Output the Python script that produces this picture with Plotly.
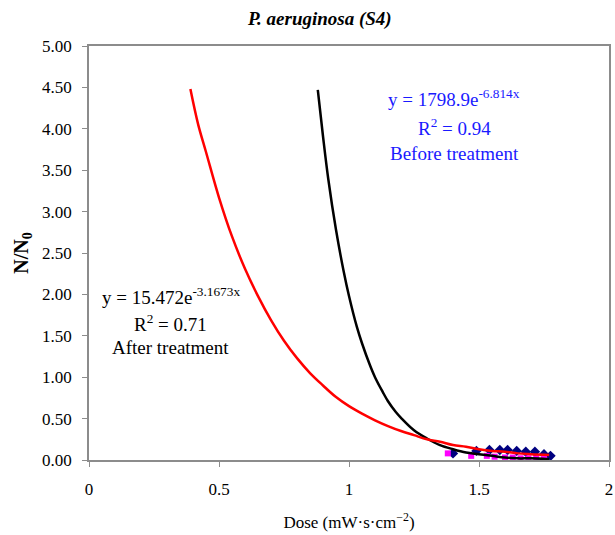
import plotly.graph_objects as go

before_x = [1.40, 1.49, 1.54, 1.58, 1.61, 1.645, 1.68, 1.715, 1.75, 1.775]
before_y = [0.08, 0.11, 0.12, 0.12, 0.12, 0.11, 0.10, 0.10, 0.07, 0.05]
after_x = [1.38, 1.47, 1.53, 1.56, 1.60, 1.63, 1.66, 1.69, 1.72, 1.75]
after_y = [0.08, 0.05, 0.05, 0.04, 0.03, 0.03, 0.02, 0.02, 0.02, 0.03]

# Trendline curves
fit_before_x = [0.88, 0.90, 0.92, 0.95, 0.98, 1.00, 1.03, 1.05, 1.08, 1.10, 1.13, 1.15, 1.18,
                1.20, 1.25, 1.30, 1.35, 1.40, 1.45, 1.50, 1.55, 1.60, 1.65, 1.70, 1.77]
fit_before_y = [4.47, 3.91, 3.40, 2.78, 2.27, 1.98, 1.61, 1.41, 1.15, 1.00, 0.82, 0.71, 0.58,
                0.51, 0.36, 0.26, 0.18, 0.13, 0.09, 0.07, 0.05, 0.03, 0.02, 0.02, 0.01]
fit_after_x = [0.39, 0.42, 0.45, 0.50, 0.55, 0.60, 0.65, 0.70, 0.75, 0.80, 0.85, 0.90, 0.95, 1.00,
               1.05, 1.10, 1.15, 1.20, 1.25, 1.30, 1.35, 1.40, 1.45, 1.50, 1.55, 1.60, 1.65, 1.70, 1.77]
fit_after_y = [4.48, 4.05, 3.72, 3.17, 2.70, 2.31, 1.98, 1.69, 1.44, 1.23, 1.05, 0.90, 0.76, 0.65,
               0.56, 0.48, 0.41, 0.35, 0.30, 0.25, 0.22, 0.18, 0.16, 0.13, 0.11, 0.10, 0.08, 0.07, 0.06]

y_ticks = [0, 0.5, 1, 1.5, 2, 2.5, 3, 3.5, 4, 4.5, 5]
x_ticks = [0, 0.5, 1, 1.5, 2]

FONT = "Liberation Serif, Times New Roman, serif"

fig = go.Figure()
fig.add_trace(go.Scatter(x=before_x, y=before_y, mode="markers",
                         marker=dict(symbol="diamond", size=8, color="#000080"),
                         showlegend=False))
fig.add_trace(go.Scatter(x=after_x, y=after_y, mode="markers",
                         marker=dict(symbol="square", size=6, color="#ff00ff"),
                         showlegend=False))
fig.add_trace(go.Scatter(x=fit_before_x, y=fit_before_y, mode="lines",
                         line=dict(color="black", width=2.5, shape="spline"),
                         showlegend=False))
fig.add_trace(go.Scatter(x=fit_after_x, y=fit_after_y, mode="lines",
                         line=dict(color="#ff0000", width=2.5, shape="spline"),
                         showlegend=False))

ann_font_b = dict(family=FONT, size=19, color="#1a1aff")
ann_font_k = dict(family=FONT, size=19, color="black")
anns = [
    dict(x=1.405, y=4.37, text="y = 1798.9e<sup>-6.814x</sup>", font=ann_font_b),
    dict(x=1.405, y=4.02, text="R<sup>2</sup> = 0.94", font=ann_font_b),
    dict(x=1.405, y=3.70, text="Before treatment", font=ann_font_b),
    dict(x=0.315, y=1.98, text="y = 15.472e<sup>-3.1673x</sup>", font=ann_font_k),
    dict(x=0.315, y=1.65, text="R<sup>2</sup> = 0.71", font=ann_font_k),
    dict(x=0.315, y=1.36, text="After treatment", font=ann_font_k),
]
for a in anns:
    a.update(xref="x", yref="y", showarrow=False, xanchor="center", yanchor="middle")

fig.update_layout(
    width=615, height=535,
    margin=dict(l=89, r=6, t=46, b=75, autoexpand=False),
    paper_bgcolor="white", plot_bgcolor="white",
    title=dict(text="<b><i>P. aeruginosa (S4)</i></b>", x=0.52, xanchor="center",
               y=0.966, yanchor="middle", font=dict(family=FONT, size=19, color="black")),
    annotations=anns,
    font=dict(family=FONT, size=17, color="black"),
)
fig.update_xaxes(range=[0, 2], tickvals=x_ticks, ticktext=["0", "0.5", "1", "1.5", "2"],
                 automargin=False, ticklabelstandoff=8,
                 showgrid=False, zeroline=False, showline=True, linecolor="#8c8c8c", linewidth=1.5,
                 mirror=True, ticks="outside", ticklen=5, tickcolor="#8c8c8c",
                 tickfont=dict(family=FONT, size=17, color="black"),
                 title=dict(text="Dose (mW·s·cm<sup>−2</sup>)", standoff=18,
                            font=dict(family=FONT, size=17, color="black")))
fig.update_yaxes(range=[0, 5], tickvals=y_ticks, ticktext=[f"{v:.2f}" for v in y_ticks],
                 automargin=False, ticklabelstandoff=7,
                 showgrid=False, zeroline=False, showline=True, linecolor="#8c8c8c", linewidth=1.5,
                 mirror=True, ticks="outside", ticklen=5, tickcolor="#8c8c8c",
                 tickfont=dict(family=FONT, size=17, color="black"),
                 title=dict(text="<b>N/N<sub>0</sub></b>", standoff=8,
                            font=dict(family=FONT, size=20, color="black")))

fig.write_html("out.html", config={"displayModeBar": False},
               post_script="document.body.style.margin='0';document.body.style.overflow='hidden';")
